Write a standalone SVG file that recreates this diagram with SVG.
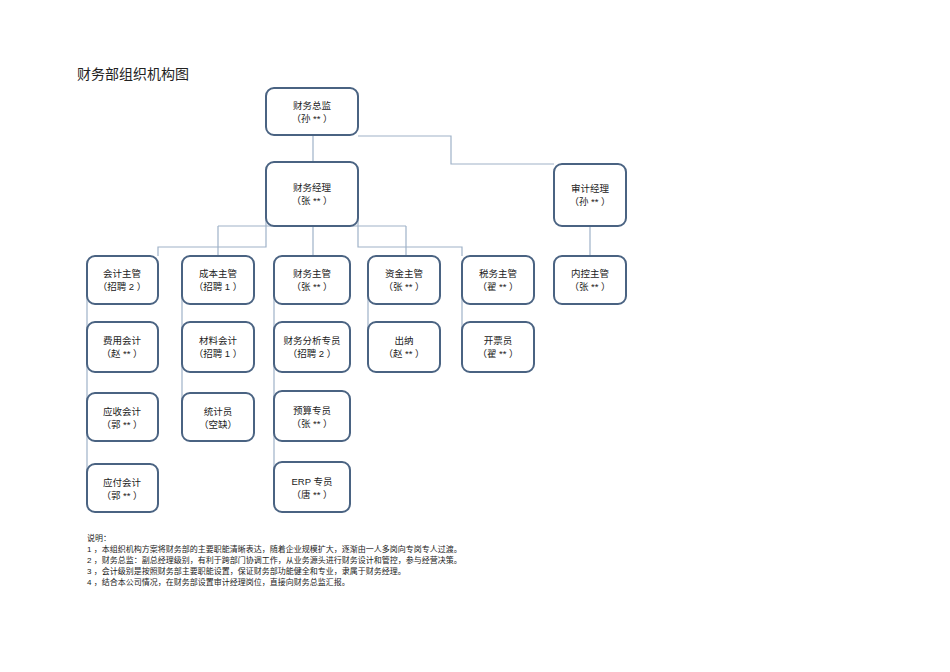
<svg xmlns="http://www.w3.org/2000/svg" width="950" height="672" viewBox="0 0 950 672">
<style>
.b{fill:#fff;stroke:#4a6382;stroke-width:2}
.t{font-family:"Liberation Sans","Noto Sans CJK SC",sans-serif;font-size:9.5px;fill:#222;text-anchor:middle}
.n{font-family:"Liberation Sans","Noto Sans CJK SC",sans-serif;font-size:8px;fill:#222}
#c path{fill:none;stroke:#9fb2c8;stroke-width:1.2}
</style>
<rect width="950" height="672" fill="#fff"/>
<text x="77" y="79" font-family="Liberation Sans,Noto Sans CJK SC,sans-serif" font-size="14" fill="#222">财务部组织机构图</text>
<g id="c">
<path d="M313 135V162M358 136H451V164H554"/>
<path d="M218 226H406M218 226V256M313 226V256M406 226V256M266 218V247H158V256M358 218V247H462V256"/>
<path d="M87 280V488M182 280V417M274 280V488M368 280V347M462 280V347M590 226V256"/>
</g>
<g id="n1"><rect class="b" x="266" y="88" width="92" height="47" rx="8"/><text class="t" x="312" y="109">财务总监</text><text class="t" x="312" y="122">（孙 ** ）</text></g>
<g id="n2"><rect class="b" x="266" y="162" width="92" height="64" rx="8"/><text class="t" x="312" y="191">财务经理</text><text class="t" x="312" y="204">（张 ** ）</text></g>
<g id="n3"><rect class="b" x="554" y="164" width="72" height="62" rx="8"/><text class="t" x="590" y="192">审计经理</text><text class="t" x="590" y="205">（孙 ** ）</text></g>
<g id="n4"><rect class="b" x="87" y="256" width="71" height="48" rx="8"/><text class="t" x="122" y="277">会计主管</text><text class="t" x="122" y="290">（招聘 2 ）</text></g>
<g id="n5"><rect class="b" x="182" y="256" width="72" height="48" rx="8"/><text class="t" x="218" y="277">成本主管</text><text class="t" x="218" y="290">（招聘 1 ）</text></g>
<g id="n6"><rect class="b" x="274" y="256" width="76" height="48" rx="8"/><text class="t" x="312" y="277">财务主管</text><text class="t" x="312" y="290">（张 ** ）</text></g>
<g id="n7"><rect class="b" x="368" y="256" width="72" height="48" rx="8"/><text class="t" x="404" y="277">资金主管</text><text class="t" x="404" y="290">（张 ** ）</text></g>
<g id="n8"><rect class="b" x="462" y="256" width="72" height="48" rx="8"/><text class="t" x="498" y="277">税务主管</text><text class="t" x="498" y="290">（翟 ** ）</text></g>
<g id="n9"><rect class="b" x="554" y="256" width="72" height="48" rx="8"/><text class="t" x="590" y="277">内控主管</text><text class="t" x="590" y="290">（张 ** ）</text></g>
<g id="n10"><rect class="b" x="87" y="322" width="71" height="50" rx="8"/><text class="t" x="122" y="344">费用会计</text><text class="t" x="122" y="357">（赵 ** ）</text></g>
<g id="n11"><rect class="b" x="182" y="322" width="72" height="50" rx="8"/><text class="t" x="218" y="344">材料会计</text><text class="t" x="218" y="357">（招聘 1 ）</text></g>
<g id="n12"><rect class="b" x="274" y="322" width="76" height="50" rx="8"/><text class="t" x="312" y="344">财务分析专员</text><text class="t" x="312" y="357">（招聘 2 ）</text></g>
<g id="n13"><rect class="b" x="368" y="322" width="72" height="50" rx="8"/><text class="t" x="404" y="344">出纳</text><text class="t" x="404" y="357">（赵 ** ）</text></g>
<g id="n14"><rect class="b" x="462" y="322" width="72" height="50" rx="8"/><text class="t" x="498" y="344">开票员</text><text class="t" x="498" y="357">（翟 ** ）</text></g>
<g id="n15"><rect class="b" x="87" y="393" width="71" height="48" rx="8"/><text class="t" x="122" y="415">应收会计</text><text class="t" x="122" y="428">（郭 ** ）</text></g>
<g id="n16"><rect class="b" x="182" y="393" width="72" height="48" rx="8"/><text class="t" x="218" y="415">统计员</text><text class="t" x="218" y="428">（空缺）</text></g>
<g id="n17"><rect class="b" x="274" y="391" width="76" height="50" rx="8"/><text class="t" x="312" y="414">预算专员</text><text class="t" x="312" y="427">（张 ** ）</text></g>
<g id="n18"><rect class="b" x="87" y="464" width="71" height="48" rx="8"/><text class="t" x="122" y="486">应付会计</text><text class="t" x="122" y="499">（郭 ** ）</text></g>
<g id="n19"><rect class="b" x="274" y="462" width="76" height="50" rx="8"/><text class="t" x="312" y="485">ERP 专员</text><text class="t" x="312" y="498">（唐 ** ）</text></g>
<text class="n" x="87" y="541">说明：</text>
<text class="n" x="87" y="552">1 ，本组织机构方案将财务部的主要职能清晰表达，随着企业规模扩大，逐渐由一人多岗向专岗专人过渡。</text>
<text class="n" x="87" y="563">2 ，财务总监：副总经理级别，有利于跨部门协调工作，从业务源头进行财务设计和管控，参与经营决策。</text>
<text class="n" x="87" y="574">3 ，会计级别是按照财务部主要职能设置，保证财务部功能健全和专业，隶属于财务经理。</text>
<text class="n" x="87" y="585">4 ，结合本公司情况，在财务部设置审计经理岗位，直接向财务总监汇报。</text>
</svg>
